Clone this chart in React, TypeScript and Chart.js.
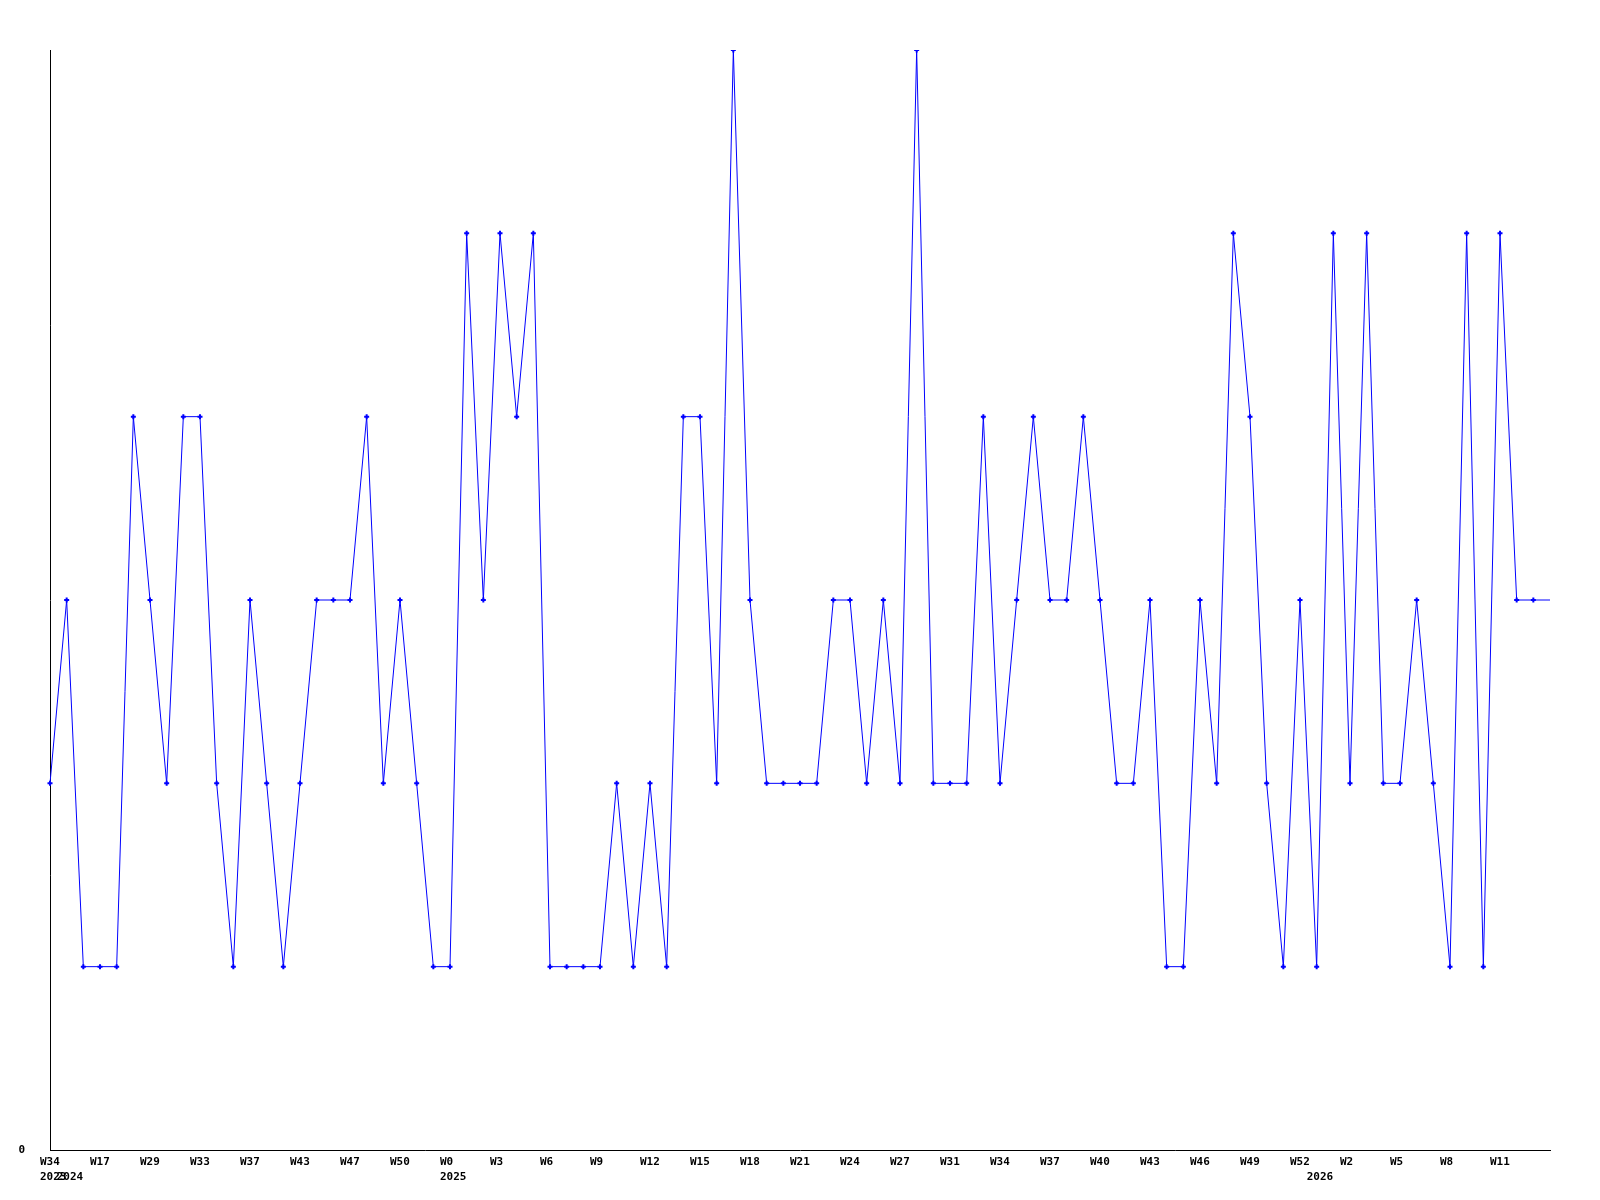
import React, { useEffect, useRef } from "react";
import { Chart, registerables } from "chart.js";

Chart.register(...registerables);

const values: number[] = [
  2, 3, 1, 1, 1, 4, 3, 2, 4, 4,
  2, 1, 3, 2, 1, 2, 3, 3, 3, 4,
  2, 3, 2, 1, 1, 5, 3, 5, 4, 5,
  1, 1, 1, 1, 2, 1, 2, 1, 4, 4,
  2, 6, 3, 2, 2, 2, 2, 3, 3, 2,
  3, 2, 6, 2, 2, 2, 4, 2, 3, 4,
  3, 3, 4, 3, 2, 2, 3, 1, 1, 3,
  2, 5, 4, 2, 1, 3, 1, 5, 2, 5,
  2, 2, 3, 2, 1, 5, 1, 5, 3, 3,
  3,
];

const weekTicks: string[] = [
  "W34", "W17", "W29", "W33", "W37", "W43", "W47", "W50", "W0", "W3",
  "W6", "W9", "W12", "W15", "W18", "W21", "W24", "W27", "W31", "W34",
  "W37", "W40", "W43", "W46", "W49", "W52", "W2", "W5", "W8", "W11",
];
const tickStep = 3;

const yearLabels: string[] = ["2023", "2024", "2025", "2026"];
const yearIndexes: number[] = [0, 1, 24, 76];

const yMax = 6;

const FONT = "'DejaVu Sans Mono', monospace";

export default function App() {
  const ref = useRef<HTMLCanvasElement | null>(null);

  useEffect(() => {
    document.body.style.margin = "0";
    const canvas = ref.current;
    if (!canvas) return;
    const labels = values.map((_, i) => String(i));
    const lastIdx = values.length - 1;

    const yearPlugin = {
      id: "yearLabels",
      afterDraw(chart: any) {
        const c = chart.ctx;
        const xs = chart.scales.x;
        c.save();
        c.font = `bold 11px ${FONT}`;
        c.fillStyle = "#000";
        c.textAlign = "left";
        c.textBaseline = "middle";
        yearLabels.forEach((lab, k) => {
          const px = xs.getPixelForValue(yearIndexes[k]);
          c.fillText(lab, px - 10, 1177);
        });
        c.restore();
      },
    };

    const chart = new Chart(canvas, {
      type: "line",
      data: {
        labels,
        datasets: [
          {
            data: values,
            borderColor: "#0000ff",
            backgroundColor: "#0000ff",
            borderWidth: 1,
            pointStyle: "cross",
            pointRadius: (ctx: any) => (ctx.dataIndex === lastIdx ? 0 : 2.5),
            pointBorderWidth: 2,
            pointBorderColor: "#0000ff",
            tension: 0,
            fill: false,
          },
        ],
      },
      options: {
        responsive: false,
        animation: false,
        devicePixelRatio: 1,
        layout: { padding: { top: 50, right: 50, left: 0, bottom: 0 } },
        plugins: {
          legend: { display: false },
          tooltip: { enabled: false },
          title: { display: false },
        },
        scales: {
          x: {
            type: "category",
            offset: false,
            grid: { display: false, drawTicks: false },
            border: { display: true, color: "#000", width: 1 },
            afterFit(scale: any) {
              scale.height = 50;
            },
            afterBuildTicks(scale: any) {
              scale.ticks = weekTicks.map((_, k) => ({ value: k * tickStep }));
            },
            ticks: {
              autoSkip: false,
              maxRotation: 0,
              minRotation: 0,
              padding: 6,
              align: "start",
              labelOffset: -10,
              color: "#000",
              font: { family: FONT, size: 11, weight: "bold" },
              callback: (val: any) => {
                const k = Math.round(Number(val) / tickStep);
                return weekTicks[k] ?? "";
              },
            },
          },
          y: {
            type: "linear",
            min: 0,
            max: yMax,
            grid: { display: false, drawTicks: false },
            border: { display: true, color: "#000", width: 1 },
            afterFit(scale: any) {
              scale.width = 50;
            },
            afterBuildTicks(scale: any) {
              scale.ticks = [{ value: 0 }];
            },
            ticks: {
              padding: 25,
              color: "#000",
              font: { family: FONT, size: 11, weight: "bold" },
              callback: (val: any) => String(val),
            },
          },
        },
      },
      plugins: [yearPlugin],
    } as any);

    return () => chart.destroy();
  }, []);

  return (
    <div style={{ position: "absolute", left: 0, top: 0, width: 1600, height: 1200, background: "#fff" }}>
      <canvas ref={ref} width={1600} height={1200} style={{ width: 1600, height: 1200, display: "block" }} />
    </div>
  );
}
